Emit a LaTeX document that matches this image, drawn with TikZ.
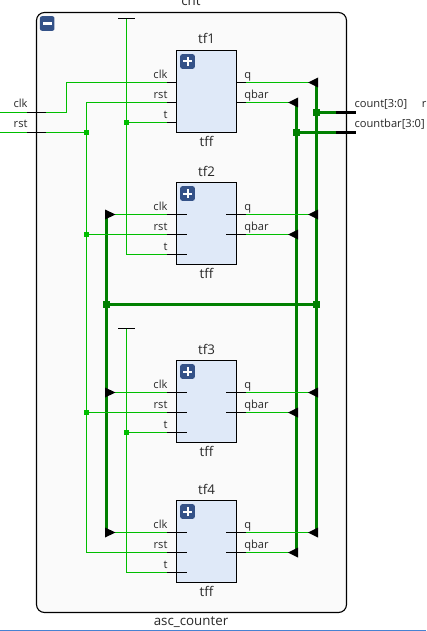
\documentclass[tikz,border=0pt]{standalone}
\usepackage{fontspec}
\setmainfont{Open Sans}
\definecolor{wire}{RGB}{0,190,0}
\definecolor{bus}{RGB}{0,128,0}
\definecolor{blockfill}{RGB}{223,233,248}
\definecolor{btn}{RGB}{52,82,136}
\definecolor{framefill}{RGB}{250,250,250}
\definecolor{lbl}{RGB}{40,40,40}
\definecolor{rulecol}{RGB}{70,130,210}
\tikzset{
 wirel/.style={draw=wire,line width=0.75pt},
 busl/.style={draw=bus,line width=2.25pt},
 blackbus/.style={draw=black,line width=2.25pt},
 stub/.style={draw=black,line width=0.75pt},
 frameb/.style={draw=black,line width=0.85pt,fill=framefill,rounded corners=6pt,outer sep=0pt},
 blockb/.style={draw=black,line width=0.75pt,fill=blockfill,minimum width=45pt,minimum height=61.5pt,inner sep=0pt,outer sep=0pt},
 txt/.style={font=\fontsize{8.35pt}{10pt}\selectfont,text=lbl,inner sep=0pt},
 ttl/.style={font=\fontsize{10pt}{12pt}\selectfont,text=lbl,inner sep=0pt},
 wdot/.style={fill=wire,draw=none,minimum size=3.75pt,inner sep=0pt},
 bdot/.style={fill=bus,draw=none,minimum size=5pt,inner sep=0pt},
 btnb/.style={fill=btn,draw=none,rounded corners=1.5pt,minimum size=10.9pt,inner sep=0pt,outer sep=0pt},
 tipl/.style={fill=black,draw=none},
}
\newcommand{\tipL}[2]{\fill[tipl] (#1+1.5,#2-5) -- (#1+1.5,#2+5) -- (#1-8.5,#2) -- cycle;}
\newcommand{\tipR}[2]{\fill[tipl] (#1-1.5,#2-5) -- (#1-1.5,#2+5) -- (#1+9,#2) -- cycle;}
\begin{document}
\begin{tikzpicture}[x=0.75pt,y=-0.75pt]
\useasboundingbox (0,0) rectangle (426,631);
\fill[white] (0,0) rectangle (426,631);
\draw[rulecol,line width=0.75pt] (0,630) -- (426,630);
\node[frameb,minimum width=232.5pt,minimum height=450pt,inner sep=0pt] (frame) at (191.5,312.5) {};
\node[btnb] (minus) at (47.2,23.5) {};
\fill[white] (42.5,22.5) rectangle (52,24.6);
\node[ttl,anchor=base] (cnt) at (191,6) {cnt};
\node[ttl,anchor=base] (asc) at (191,625.5) {asc\_counter};
% blocks
\foreach \n/\y in {1/50.5,2/182.5,3/360.5,4/500.5}{
 \node[blockb,anchor=north west] (tf\n) at (176.5,\y) {};
 \node[btnb] (plus\n) at (187.5,\y+11) {};
 \fill[white] (183,\y+10) rectangle (192,\y+12);
 \fill[white] (186.5,\y+6.5) rectangle (188.5,\y+15.5);
 \node[ttl,anchor=base] (name\n) at (206.5,\y-6.5) {tf\n};
 \node[ttl,anchor=base] (type\n) at (206.5,\y+96) {tff};
 \node[txt,anchor=base east] (clk\n) at (167.7,\y+28) {clk};
 \node[txt,anchor=base east] (rst\n) at (167.7,\y+48) {rst};
 \node[txt,anchor=base east] (t\n) at (167.7,\y+68) {t};
 \node[txt,anchor=base west] (q\n) at (244,\y+28) {q};
 \node[txt,anchor=base west] (qb\n) at (244,\y+48) {qbar};
 \coordinate (ci\n) at (176.5,\y+32);
 \coordinate (ri\n) at (176.5,\y+52);
 \coordinate (ti\n) at (176.5,\y+72);
 \coordinate (qi\n) at (236.5,\y+32);
 \coordinate (bi\n) at (236.5,\y+52);
}
% junction coordinates
\coordinate (clkin) at (0,112.5);
\coordinate (rstin) at (0,132.5);
\coordinate (vt) at (126.5,18.5);
\coordinate (vtb) at (126.5,328.5);
% thick buses
\draw[busl] (316.5,82.5) -- (316.5,532.5);
\draw[busl] (296.5,102.5) -- (296.5,552.5);
\draw[busl] (106.5,214.5) -- (106.5,532.5);
\draw[busl] (106.5,304.5) -- (316.5,304.5);
\draw[busl] (316.5,112.5) -- (336,112.5);
\draw[busl] (296.5,132.5) -- (336,132.5);
\draw[blackbus] (336,112.5) -- (356,112.5);
\draw[blackbus] (336,132.5) -- (356,132.5);
% wires
\draw[wirel] (clkin) -- (27,112.5);
\draw[wirel] (46,112.5) -- (66.5,112.5) -- (66.5,82.5) -- (167,82.5);
\draw[wirel] (rstin) -- (27,132.5);
\draw[wirel] (46,132.5) -- (86.5,132.5);
\draw[stub] (27,112.5) -- (46,112.5);
\draw[stub] (27,132.5) -- (46,132.5);
\draw[wirel] (167,102.5) -- (86.5,102.5) -- (86.5,552.5) -- (167,552.5);
\draw[wirel] (86.5,234.5) -- (167,234.5);
\draw[wirel] (86.5,412.5) -- (167,412.5);
\draw[wirel] (vt) -- (126.5,254.5) -- (167,254.5);
\draw[wirel] (126.5,122.5) -- (167,122.5);
\draw[wirel] (vtb) -- (126.5,572.5) -- (167,572.5);
\draw[wirel] (126.5,432.5) -- (167,432.5);
\draw[stub] (118,18.5) -- (135,18.5);
\draw[stub] (118,328.5) -- (135,328.5);
% clk wires and outputs
\foreach \y in {214.5,392.5,532.5}{\draw[wirel] (106.5,\y) -- (167,\y);}
\foreach \y in {82.5,214.5,392.5,532.5}{\draw[wirel] (246,\y) -- (316.5,\y);}
\foreach \y in {102.5,234.5,412.5,552.5}{\draw[wirel] (246,\y) -- (296.5,\y);}
% stubs
\draw[stub] (167,82.5) -- (ci1);
\draw[stub] (167,102.5) -- (ri1);
\draw[stub] (167,122.5) -- (ti1);
\draw[stub] (qi1) -- (246,82.5);
\draw[stub] (bi1) -- (246,102.5);
\foreach \n/\a/\b/\c in {2/214.5/234.5/254.5,3/392.5/412.5/432.5,4/532.5/552.5/572.5}{
 \draw[stub] (167,\a) -- (187,\a);
 \draw[stub] (167,\b) -- (187,\b);
 \draw[stub] (167,\c) -- (187,\c);
 \draw[stub] (226,\a) -- (246,\a);
 \draw[stub] (226,\b) -- (246,\b);
}
% arrow tips
\foreach \y in {82.5,214.5,392.5,532.5}{\tipL{316.5}{\y}}
\foreach \y in {102.5,234.5,412.5,552.5}{\tipL{296.5}{\y}}
\foreach \y in {214.5,392.5,532.5}{\tipR{106.5}{\y}}
% dots
\node[wdot] (d1) at (86.5,132.5) {};
\node[wdot] (d2) at (86.5,234.5) {};
\node[wdot] (d3) at (86.5,412.5) {};
\node[wdot] (d4) at (126.5,122.5) {};
\node[wdot] (d5) at (126.5,432.5) {};
\node[bdot] (d6) at (316.5,112.5) {};
\node[bdot] (d7) at (296.5,132.5) {};
\node[bdot] (d8) at (106.5,304.5) {};
\node[bdot] (d9) at (316.5,304.5) {};
% port labels
\node[txt,anchor=base east] (clkl) at (27.8,107.3) {clk};
\node[txt,anchor=base east] (rstl) at (27.8,127.5) {rst};
\node[txt,anchor=base west] (cl) at (354.3,107.5) {count[3:0]};
\node[txt,anchor=base west] (cbl) at (354.3,127.5) {countbar[3:0]};
\node[txt,anchor=base west] (cut) at (421.5,107.5) {r};
\end{tikzpicture}
\end{document}
